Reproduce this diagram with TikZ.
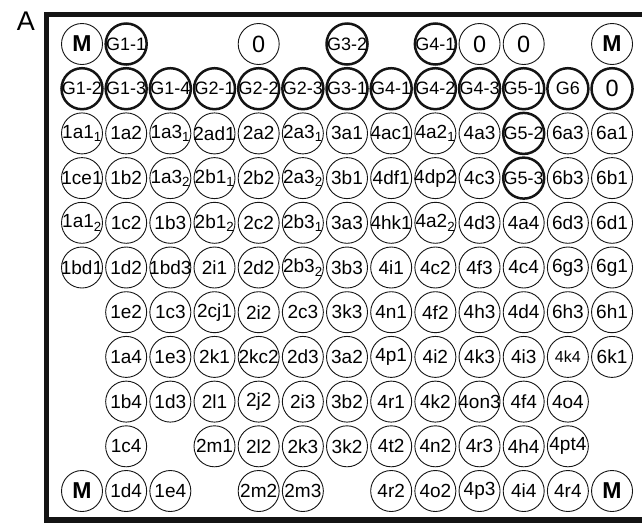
\documentclass[tikz,border=0pt]{standalone}
\usepackage{fontspec}
\setmainfont{Liberation Sans}
\usetikzlibrary{positioning}
\definecolor{plateink}{RGB}{20, 20, 20}
\tikzset{
  well/.style={circle, draw=plateink, line width=0.9pt, minimum size=41pt, inner sep=0pt, font=\fontsize{19}{20}\selectfont},
  well-w/.style={well},
  well-g/.style={well, line width=2.5pt, font=\fontsize{18}{19}\selectfont},
  well-m/.style={well, font=\fontsize{23}{24}\selectfont\bfseries},
  well-z/.style={well, font=\fontsize{23.5}{24}\selectfont},
  well-t/.style={well-z, line width=2.5pt},
  well-s/.style={well, font=\fontsize{16}{17}\selectfont},
  plate/.style={line width=5.5pt, plateink}
}
\newcommand{\sub}[1]{\textsubscript{#1}}

\begin{document}
\begin{tikzpicture}[x=1pt, y=-1pt]
  \useasboundingbox (0,0) rectangle (642,523);
  \node[font=\fontsize{27}{28}\selectfont] (panel) at (26,21) {A};
  % plate outline (right side runs off the picture)
  \draw[plate] (642,14.5) -- (46.5,14.5) -- (46.5,520) -- (642,520);
  % wells, row by row; x/- is an empty position
  \foreach \row [count=\r] in {
    {m/M, g/G1-1, x/-, x/-, z/0, x/-, g/G3-2, x/-, g/G4-1, z/0, z/0, x/-, m/M},
    {g/G1-2, g/G1-3, g/G1-4, g/G2-1, g/G2-2, g/G2-3, g/G3-1, g/G4-1, g/G4-2, g/G4-3, g/G5-1, g/G6, t/0},
    {w/1a1\sub{1}, w/1a2, w/1a3\sub{1}, w/2ad1, w/2a2, w/2a3\sub{1}, w/3a1, w/4ac1, w/4a2\sub{1}, w/4a3, g/G5-2, w/6a3, w/6a1},
    {w/1ce1, w/1b2, w/1a3\sub{2}, w/2b1\sub{1}, w/2b2, w/2a3\sub{2}, w/3b1, w/4df1, w/4dp2, w/4c3, g/G5-3, w/6b3, w/6b1},
    {w/1a1\sub{2}, w/1c2, w/1b3, w/2b1\sub{2}, w/2c2, w/2b3\sub{1}, w/3a3, w/4hk1, w/4a2\sub{2}, w/4d3, w/4a4, w/6d3, w/6d1},
    {w/1bd1, w/1d2, w/1bd3, w/2i1, w/2d2, w/2b3\sub{2}, w/3b3, w/4i1, w/4c2, w/4f3, w/4c4, w/6g3, w/6g1},
    {x/-, w/1e2, w/1c3, w/2cj1, w/2i2, w/2c3, w/3k3, w/4n1, w/4f2, w/4h3, w/4d4, w/6h3, w/6h1},
    {x/-, w/1a4, w/1e3, w/2k1, w/2kc2, w/2d3, w/3a2, w/4p1, w/4i2, w/4k3, w/4i3, s/4k4, w/6k1},
    {x/-, w/1b4, w/1d3, w/2l1, w/2j2, w/2i3, w/3b2, w/4r1, w/4k2, w/4on3, w/4f4, w/4o4, x/-},
    {x/-, w/1c4, x/-, w/2m1, w/2l2, w/2k3, w/3k2, w/4t2, w/4n2, w/4r3, w/4h4, w/4pt4, x/-},
    {m/M, w/1d4, w/1e4, x/-, w/2m2, w/2m3, x/-, w/4r2, w/4o2, w/4p3, w/4i4, w/4r4, m/M}}
  {
    \foreach \st/\lab [count=\c] in \row {
      \if x\st\else
        \node[well-\st] (well-\r-\c) at ({82+44.17*(\c-1)}, {44+44.7*(\r-1)}) {\makebox[0pt]{\lab}};
      \fi
    }
  }
\end{tikzpicture}
\end{document}
